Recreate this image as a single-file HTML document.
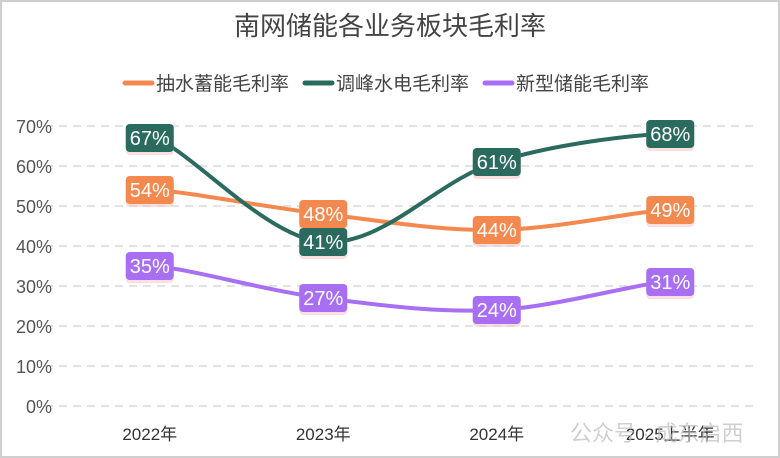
<!DOCTYPE html>
<html><head><meta charset="utf-8"><style>
html,body{margin:0;padding:0;background:#fff}
#wrap{width:776px;height:454px;border:2px solid #cfcfcf;position:relative;overflow:hidden}
text{font-family:"Liberation Sans","Noto Sans CJK SC",sans-serif}
</style></head><body>
<div id="wrap">
<svg id="chart" width="776" height="454"></svg>
</div>
<script>
const categories=["2022年","2023年","2024年","2025上半年"];
const pumpedValues=[54,48,44,49];
const hydroValues=[67,41,61,68];
const newValues=[35,27,24,31];
const seriesNames=["抽水蓄能毛利率","调峰水电毛利率","新型储能毛利率"];
const seriesColors=["#f4894f","#2b6b5f","#a86ef4"];
const yTicks=[0,10,20,30,40,50,60,70];

const NS="http://www.w3.org/2000/svg";
const svg=document.getElementById('chart');
const ox=-2,oy=-2;
function el(t,a,p){const e=document.createElementNS(NS,t);for(const k in a)e.setAttribute(k,a[k]);(p||svg).appendChild(e);return e;}
const x0=63+ox,x1=757+ox,band=(x1-x0)/categories.length;
function xs(i){return x0+band*(i+0.5);}
function ys(v){return 406+oy-v*4;}

const title=el('text',{x:390+ox,y:35+oy,'text-anchor':'middle','font-size':26,fill:'#444'});
title.textContent="南网储能各业务板块毛利率";



const legX=[125,305,485];
seriesNames.forEach((n,i)=>{
  const g=el('g',{});
  
  
  el('line',{x1:legX[i]+ox,x2:legX[i]+27+ox,y1:83+oy,y2:83+oy,stroke:seriesColors[i],'stroke-width':5,'stroke-linecap':'round'},g);
  const t=el('text',{x:legX[i]+31+ox,y:90+oy,'font-size':19,fill:'#444'},g);t.textContent=n;
});

yTicks.forEach(v=>{
  const l=el('line',{x1:45+ox,x2:758+ox,y1:ys(v),y2:ys(v),stroke:'#d8d8d8','stroke-width':1.5,'stroke-dasharray':'8,6'});
  
  
  const t=el('text',{x:52+ox,y:ys(v)+7,'text-anchor':'end','font-size':18,fill:'#555'});
  t.textContent=v+'%';
  
  
});
categories.forEach((c,i)=>{
  const t=el('text',{x:xs(i),y:440+oy,'text-anchor':'middle','font-size':17,fill:'#333'});
  t.textContent=c;
  
  
});

function path(vals){
  const p=vals.map((v,i)=>[xs(i),ys(v)]);
  let d=`M${p[0][0]},${p[0][1]}`;
  const s=0.35;
  for(let i=0;i<p.length-1;i++){
    const a=p[i-1]||p[i],b=p[i],c=p[i+1],e=p[i+2]||c;
    const c1=[b[0]+(c[0]-a[0])*s/2,b[1]+(c[1]-a[1])*s*(i==0?0:1)/2];
    const c2=[c[0]-(e[0]-b[0])*s/2,c[1]-(e[1]-b[1])*s*(i==p.length-2?0:1)/2];
    d+=` C${c1[0]},${c1[1]} ${c2[0]},${c2[1]} ${c[0]},${c[1]}`;
  }
  return d;
}
const all=[pumpedValues,hydroValues,newValues];
const names=['pumped-storage','peak-hydro','new-storage'];
all.forEach((vals,si)=>{
  const pth=el('path',{d:path(vals),fill:'none',stroke:seriesColors[si],'stroke-width':4,'stroke-linecap':'round'});
  
  
});
all.forEach((vals,si)=>{
  vals.forEach((v,i)=>{
    const g=el('g',{});
    
    
    const cx=xs(i),cy=ys(v);
    el('rect',{x:cx-24,y:cy-11,width:48,height:28,rx:4,fill:'#f9c9c9',opacity:0.6},g);
    el('rect',{x:cx-24,y:cy-14,width:48,height:28,rx:4,fill:seriesColors[si]},g);
    const t=el('text',{x:cx,y:cy+7,'text-anchor':'middle','font-size':20,fill:'#fff'},g);
    t.textContent=v+'%';
  });
});
const wm=el('text',{x:570+ox,y:441+oy,'font-size':22,fill:'#bbb',opacity:0.7});
wm.textContent="公众号 · 成东启西";


</script>
</body></html>
